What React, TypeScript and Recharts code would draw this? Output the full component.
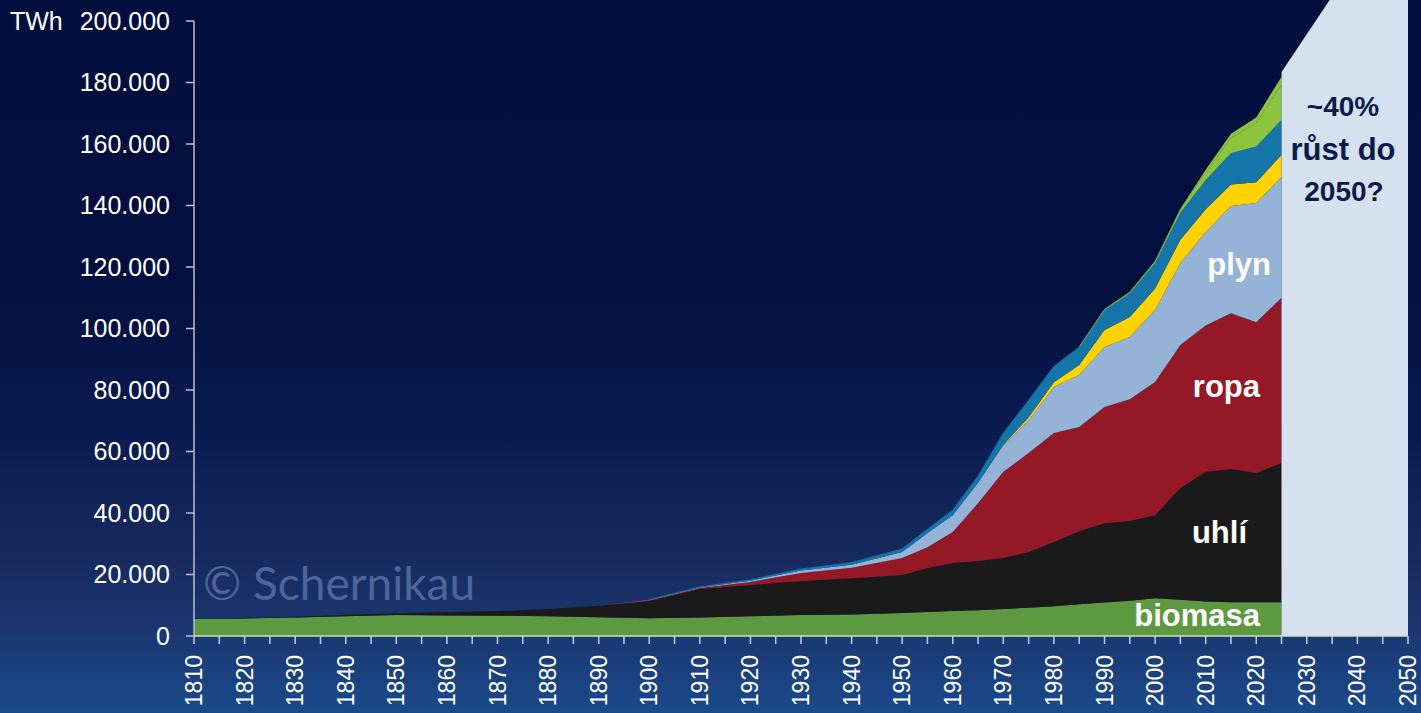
import React from 'react';
import { ComposedChart, Area, XAxis, YAxis, ReferenceLine } from 'recharts';

const years = [1810, 1820, 1830, 1840, 1850, 1860, 1870, 1880, 1890, 1900, 1910, 1920, 1930, 1940, 1950, 1955, 1960, 1965, 1970, 1975, 1980, 1985, 1990, 1995, 2000, 2005, 2010, 2015, 2020, 2025, 2050];

const biomasa = [5500, 5700, 6000, 6400, 6800, 6700, 6600, 6400, 6100, 5800, 6000, 6400, 6800, 7000, 7500, 7800, 8100, 8400, 8800, 9200, 9700, 10300, 10900, 11500, 12300, 11800, 11200, 11000, 11000, 11000, null];
const uhli = [100, 200, 300, 400, 600, 1000, 1500, 2400, 3700, 5600, 9300, 10200, 11100, 11800, 12300, 14300, 15600, 16000, 16600, 18100, 20900, 23800, 25800, 25900, 27000, 36300, 42200, 43300, 42000, 45300, null];
const ropa = [0, 0, 0, 0, 0, 0, 0, 0, 0, 200, 300, 1000, 2600, 3400, 5600, 6800, 10100, 18800, 28000, 32200, 35400, 33900, 37800, 39600, 43300, 46500, 47600, 50700, 49000, 53700, null];
const plyn = [0, 0, 0, 0, 0, 0, 0, 0, 0, 100, 200, 400, 800, 1000, 1900, 4600, 5500, 6600, 8600, 10700, 15000, 16900, 19500, 20200, 23400, 26700, 30400, 34800, 38800, 39300, null];
const jadro = [0, 0, 0, 0, 0, 0, 0, 0, 0, 0, 0, 0, 0, 0, 0, 0, 0, 0, 200, 900, 1500, 3200, 5500, 6500, 7000, 7600, 7400, 7000, 6800, 7200, null];
const voda = [null, null, null, null, null, null, null, null, null, 100, 200, 300, 500, 700, 1000, 1200, 1700, 2200, 3800, 5600, 5200, 5900, 6500, 7800, 8300, 8800, 9500, 10300, 11600, 11400, null];
const vitrSlunce = [null, null, null, null, null, null, null, null, null, null, null, null, null, null, null, null, null, null, null, null, null, 0, 200, 300, 500, 1000, 2600, 4900, 7800, 11500, null];
const ostatniOze = [null, null, null, null, null, null, null, null, null, null, null, null, null, null, null, null, null, null, null, null, null, 0, 100, 100, 100, 200, 700, 1300, 1600, 2500, null];
const prognoza = [null, null, null, null, null, null, null, null, null, null, null, null, null, null, null, null, null, null, null, null, null, null, null, null, null, null, null, null, null, 183400, 245000];

const yTicks = [0, 20000, 40000, 60000, 80000, 100000, 120000, 140000, 160000, 180000, 200000];
const xTicks = [1810, 1815, 1820, 1825, 1830, 1835, 1840, 1845, 1850, 1855, 1860, 1865, 1870, 1875, 1880, 1885, 1890, 1895, 1900, 1905, 1910, 1915, 1920, 1925, 1930, 1935, 1940, 1945, 1950, 1955, 1960, 1965, 1970, 1975, 1980, 1985, 1990, 1995, 2000, 2005, 2010, 2015, 2020, 2025, 2030, 2035, 2040, 2045, 2050];

const data = years.map((year, i) => ({
  year,
  biomasa: biomasa[i],
  uhli: uhli[i],
  ropa: ropa[i],
  plyn: plyn[i],
  jadro: jadro[i],
  voda: voda[i],
  vitrSlunce: vitrSlunce[i],
  ostatniOze: ostatniOze[i],
  prognoza: prognoza[i],
}));

const FONT = '"Liberation Sans", Arial, sans-serif';

const fmt = (v: number) => String(v).replace(/\B(?=(\d{3})+(?!\d))/g, '.');

const YTick = (props: any) => {
  const { x, y, payload } = props;
  return (
    <g>
      {payload.value === 200000 && (
        <text x={10} y={y} dy="0.35em" textAnchor="start" fill="#ffffff" fontSize={25} fontFamily={FONT}>
          TWh
        </text>
      )}
      <text x={x} y={y} dy="0.35em" textAnchor="end" fill="#ffffff" fontSize={25} fontFamily={FONT}>
        {fmt(payload.value)}
      </text>
    </g>
  );
};

const XTick = (props: any) => {
  const { x, y, payload } = props;
  if (payload.value % 10 !== 0) return <g />;
  return (
    <text
      x={x}
      y={y}
      dy="0.35em"
      textAnchor="end"
      transform={`rotate(-90, ${x}, ${y})`}
      fill="#ffffff"
      fontSize={23}
      fontFamily={FONT}
    >
      {payload.value}
    </text>
  );
};

export default function App() {
  return (
    <div
      style={{
        position: 'absolute',
        left: 0,
        top: 0,
        width: 1421,
        height: 713,
        overflow: 'hidden',
        background:
          'linear-gradient(to bottom, #020e3e 0%, #03103f 40%, #0b1c50 62%, #172a5e 78%, #1b3670 88%, #1a4a8a 100%)',
      }}
    >
      <svg width={1421} height={713} style={{ position: 'absolute', left: 0, top: 0 }}>
        <text x={203} y={600} fill="#4d6598" fontSize={46} fontFamily="Lato, 'Open Sans', sans-serif">
          © Schernikau
        </text>
      </svg>
      <div style={{ position: 'absolute', left: 0, top: 0 }}>
        <ComposedChart width={1421} height={713} data={data} margin={{ top: 0, right: 13, left: 0, bottom: 0 }}>
          <XAxis
            dataKey="year"
            type="number"
            domain={[1810, 2050]}
            ticks={xTicks}
            interval={0}
            height={77}
            tickSize={8}
            tickMargin={11}
            tick={<XTick />}
            axisLine={{ stroke: '#d3dcc0', strokeWidth: 1.5 }}
            tickLine={{ stroke: '#c8cdd8', strokeWidth: 1.5 }}
          />
          <YAxis
            type="number"
            domain={[0, 206829]}
            allowDataOverflow
            ticks={yTicks}
            interval={0}
            width={194}
            tickSize={8}
            tickMargin={16}
            tick={<YTick />}
            axisLine={false}
            tickLine={{ stroke: '#b9c0cf', strokeWidth: 1.5 }}
          />
          <Area type="linear" dataKey="biomasa" stackId="a" stroke="none" fill="#5d9940" fillOpacity={1} isAnimationActive={false} />
          <Area type="linear" dataKey="uhli" stackId="a" stroke="none" fill="#1a1a1a" fillOpacity={1} isAnimationActive={false} />
          <Area type="linear" dataKey="ropa" stackId="a" stroke="none" fill="#951827" fillOpacity={1} isAnimationActive={false} />
          <Area type="linear" dataKey="plyn" stackId="a" stroke="none" fill="#95b3d7" fillOpacity={1} isAnimationActive={false} />
          <Area type="linear" dataKey="jadro" stackId="a" stroke="none" fill="#ffd200" fillOpacity={1} isAnimationActive={false} />
          <Area type="linear" dataKey="voda" stackId="a" stroke="#1575a8" strokeWidth={0.8} fill="#1575a8" fillOpacity={1} isAnimationActive={false} />
          <Area type="linear" dataKey="vitrSlunce" stackId="a" stroke="#6f9f45" strokeWidth={1} fill="#8cc43f" fillOpacity={1} isAnimationActive={false} />
          <Area type="linear" dataKey="ostatniOze" stackId="a" stroke="none" fill="#8cc43f" fillOpacity={1} isAnimationActive={false} />
          <Area type="linear" dataKey="prognoza" stroke="none" fill="#d5e1ef" fillOpacity={1} isAnimationActive={false} />
          <ReferenceLine
            segment={[{ x: 1810, y: 0 }, { x: 1810, y: 200000 }]}
            stroke="#b9c0cf"
            strokeWidth={1.5}
          />
        </ComposedChart>
      </div>
      <svg width={1421} height={713} style={{ position: 'absolute', left: 0, top: 0, pointerEvents: 'none' }}>
        <g fontFamily={FONT} fontWeight="bold" fill="#ffffff" fontSize={31} textAnchor="end">
          <text x={1271} y={275}>plyn</text>
          <text x={1260} y={397}>ropa</text>
          <text x={1247} y={543}>uhlí</text>
          <text x={1260} y={626}>biomasa</text>
        </g>
        <g fontFamily={FONT} fontWeight="bold" fill="#0b1a4d" textAnchor="middle">
          <text x={1343} y={116} fontSize={28}>~40%</text>
          <text x={1343} y={160} fontSize={31}>růst do</text>
          <text x={1344} y={201} fontSize={28}>2050?</text>
        </g>
      </svg>
    </div>
  );
}
